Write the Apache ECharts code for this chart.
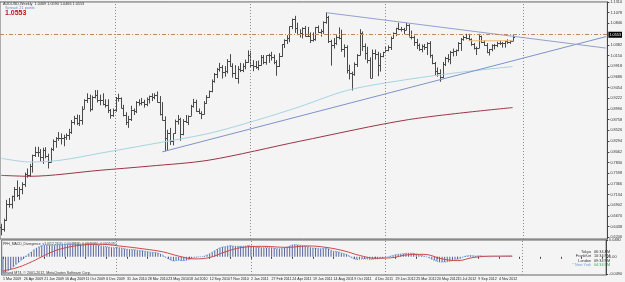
<!DOCTYPE html>
<html>
<head>
<meta charset="utf-8">
<script src="https://cdn.jsdelivr.net/npm/echarts@6/dist/echarts.min.js"></script>
<style>
  html, body { margin: 0; padding: 0; background: #f4f4f4; }
  #chart { width: 625px; height: 282px; }
</style>
</head>
<body>
<div id="chart"></div>
<script>
// AUDUSD weekly bars, 1 Mar 2009 .. Dec 2012
var opens = [
  0.6430,0.6390,0.6590,0.6930,0.6930,0.7100,0.7250,0.7130,0.7250,0.7370,
  0.7570,0.7550,0.7750,0.7990,0.8050,0.8060,0.7950,0.8100,0.7960,0.7850,
  0.8130,0.8300,0.8360,0.8360,0.8350,0.8380,0.8420,0.8500,0.8710,0.8790,
  0.8680,0.8740,0.9000,0.9190,0.9230,0.9000,0.9260,0.9290,0.9190,0.9180,
  0.9100,0.9070,0.8960,0.8850,0.8970,0.9220,0.9230,0.9020,0.8850,0.8710,
  0.8780,0.8960,0.8950,0.9150,0.9110,0.9140,0.9100,0.9200,0.9280,0.9260,
  0.9290,0.9150,0.8880,0.8760,0.8350,0.8470,0.8290,0.8460,0.8720,0.8780,
  0.8440,0.8720,0.8700,0.8840,0.9050,0.9140,0.8950,0.8910,0.8890,0.9130,
  0.9240,0.9370,0.9600,0.9750,0.9860,0.9890,0.9800,0.9810,1.0040,0.9930,
  0.9760,0.9660,0.9860,0.9840,0.9930,1.0010,1.0160,0.9950,0.9920,0.9900,
  0.9940,1.0110,1.0000,1.0150,1.0160,1.0110,1.0010,0.9930,1.0130,1.0390,
  1.0480,1.0540,1.0780,1.0950,1.0740,1.0620,1.0640,1.0740,1.0580,1.0570,
  1.0480,1.0510,1.0760,1.0660,1.0680,1.0880,1.0980,1.0460,1.0380,1.0420,
  1.0550,1.0530,1.0290,1.0330,0.9840,0.9780,0.9750,0.9960,1.0170,1.0630,
  1.0360,1.0200,1.0050,0.9670,1.0200,1.0190,0.9940,1.0140,1.0230,1.0260,
  1.0330,1.0540,1.0630,1.0740,1.0730,1.0720,1.0710,1.0820,1.0560,1.0560,
  1.0440,1.0370,1.0280,1.0350,1.0330,1.0410,1.0150,0.9990,0.9810,0.9780,
  0.9680,0.9970,1.0090,1.0080,1.0230,1.0240,1.0260,1.0430,1.0500,1.0560,
  1.0540,1.0500,1.0390,1.0310,1.0320,1.0580,1.0450,1.0380,1.0220,1.0280,
  1.0370,1.0370,1.0420,1.0430,1.0420,1.0470,1.0440,1.0469
];
var highs = [
  0.6500,0.6610,0.7020,0.7060,0.7110,0.7300,0.7440,0.7300,0.7400,0.7610,
  0.7700,0.7800,0.8000,0.8170,0.8170,0.8120,0.8150,0.8160,0.8020,0.8150,
  0.8330,0.8380,0.8490,0.8460,0.8430,0.8460,0.8560,0.8750,0.8840,0.8870,
  0.8860,0.9050,0.9200,0.9330,0.9300,0.9280,0.9400,0.9400,0.9300,0.9330,
  0.9200,0.9200,0.8990,0.9000,0.9250,0.9320,0.9240,0.9080,0.8920,0.8840,
  0.9060,0.9000,0.9160,0.9200,0.9230,0.9190,0.9240,0.9280,0.9330,0.9330,
  0.9370,0.9270,0.9140,0.8830,0.8540,0.8580,0.8460,0.8760,0.8860,0.8800,
  0.8770,0.8860,0.8850,0.9080,0.9210,0.9190,0.9000,0.8940,0.9160,0.9290,
  0.9390,0.9630,0.9770,0.9880,0.9990,0.9940,0.9920,1.0070,1.0180,0.9980,
  0.9940,0.9920,0.9990,0.9980,1.0060,1.0260,1.0250,1.0050,1.0030,1.0040,
  1.0160,1.0160,1.0150,1.0190,1.0230,1.0170,1.0050,1.0200,1.0400,1.0500,
  1.0590,1.0780,1.0950,1.1010,1.0860,1.0720,1.0760,1.0790,1.0770,1.0650,
  1.0650,1.0770,1.0800,1.0720,1.0890,1.1080,1.1010,1.0490,1.0530,1.0590,
  1.0760,1.0710,1.0390,1.0370,0.9950,0.9800,1.0000,1.0180,1.0720,1.0670,
  1.0410,1.0340,1.0110,1.0280,1.0280,1.0230,1.0200,1.0230,1.0340,1.0370,
  1.0560,1.0650,1.0750,1.0860,1.0770,1.0750,1.0860,1.0830,1.0690,1.0580,
  1.0510,1.0410,1.0390,1.0400,1.0440,1.0460,1.0170,1.0010,0.9890,0.9850,
  1.0010,1.0120,1.0180,1.0250,1.0300,1.0280,1.0440,1.0530,1.0580,1.0620,
  1.0620,1.0520,1.0420,1.0340,1.0620,1.0580,1.0480,1.0420,1.0290,1.0390,
  1.0400,1.0450,1.0470,1.0440,1.0470,1.0500,1.0480,1.0590
];
var lows = [
  0.6250,0.6330,0.6560,0.6850,0.6830,0.6990,0.7080,0.7020,0.7140,0.7300,
  0.7500,0.7520,0.7610,0.7950,0.7950,0.7850,0.7800,0.7920,0.7700,0.7830,
  0.8080,0.8150,0.8300,0.8220,0.8180,0.8320,0.8320,0.8450,0.8650,0.8640,
  0.8620,0.8650,0.8990,0.9120,0.8930,0.8960,0.9220,0.9130,0.9070,0.9070,
  0.9020,0.8900,0.8780,0.8820,0.8930,0.9150,0.9000,0.8830,0.8640,0.8580,
  0.8730,0.8860,0.8900,0.9060,0.9070,0.9020,0.9050,0.9110,0.9160,0.9200,
  0.9130,0.8850,0.8740,0.8070,0.8080,0.8210,0.8200,0.8450,0.8650,0.8300,
  0.8420,0.8690,0.8640,0.8840,0.9020,0.8930,0.8880,0.8770,0.8870,0.9100,
  0.9230,0.9350,0.9560,0.9660,0.9800,0.9650,0.9690,0.9760,0.9910,0.9670,
  0.9640,0.9540,0.9790,0.9790,0.9850,0.9990,0.9900,0.9810,0.9860,0.9830,
  0.9930,0.9960,0.9950,0.9990,1.0040,0.9960,0.9710,0.9900,1.0120,1.0310,
  1.0400,1.0440,1.0720,1.0640,1.0590,1.0540,1.0520,1.0560,1.0550,1.0420,
  1.0450,1.0470,1.0640,1.0560,1.0620,1.0840,1.0420,0.9930,1.0300,1.0380,
  1.0500,1.0230,1.0110,0.9760,0.9630,0.9390,0.9710,0.9900,1.0150,1.0250,
  1.0060,0.9980,0.9660,0.9660,1.0060,0.9700,0.9800,1.0110,1.0200,1.0240,
  1.0270,1.0510,1.0570,1.0700,1.0670,1.0610,1.0700,1.0560,1.0500,1.0360,
  1.0290,1.0250,1.0220,1.0270,1.0160,1.0100,0.9960,0.9710,0.9690,0.9580,
  0.9660,0.9920,1.0000,0.9960,1.0130,1.0140,1.0240,1.0250,1.0470,1.0500,
  1.0470,1.0360,1.0280,1.0160,1.0310,1.0420,1.0360,1.0200,1.0150,1.0240,
  1.0280,1.0330,1.0380,1.0320,1.0320,1.0400,1.0400,1.0466
];
var closes = [
  0.6390,0.6590,0.6930,0.6930,0.7100,0.7250,0.7130,0.7250,0.7370,0.7570,
  0.7550,0.7750,0.7990,0.8050,0.8060,0.7950,0.8100,0.7960,0.7850,0.8130,
  0.8300,0.8360,0.8360,0.8350,0.8380,0.8420,0.8500,0.8710,0.8790,0.8680,
  0.8740,0.9000,0.9190,0.9230,0.9000,0.9260,0.9290,0.9190,0.9180,0.9100,
  0.9070,0.8960,0.8850,0.8970,0.9220,0.9230,0.9020,0.8850,0.8710,0.8780,
  0.8960,0.8950,0.9150,0.9110,0.9140,0.9100,0.9200,0.9280,0.9260,0.9290,
  0.9150,0.8880,0.8760,0.8350,0.8470,0.8290,0.8460,0.8720,0.8780,0.8440,
  0.8720,0.8700,0.8840,0.9050,0.9140,0.8950,0.8910,0.8890,0.9130,0.9240,
  0.9370,0.9600,0.9750,0.9860,0.9890,0.9800,0.9810,1.0040,0.9930,0.9760,
  0.9660,0.9860,0.9840,0.9930,1.0010,1.0160,0.9950,0.9920,0.9900,0.9940,
  1.0110,1.0000,1.0150,1.0160,1.0110,1.0010,0.9930,1.0130,1.0390,1.0480,
  1.0540,1.0780,1.0950,1.0740,1.0620,1.0640,1.0740,1.0580,1.0570,1.0480,
  1.0510,1.0760,1.0660,1.0680,1.0880,1.0980,1.0460,1.0380,1.0420,1.0550,
  1.0530,1.0290,1.0330,0.9840,0.9780,0.9750,0.9960,1.0170,1.0630,1.0360,
  1.0200,1.0050,0.9670,1.0200,1.0190,0.9940,1.0140,1.0230,1.0260,1.0330,
  1.0540,1.0630,1.0740,1.0730,1.0720,1.0710,1.0820,1.0560,1.0560,1.0440,
  1.0370,1.0280,1.0350,1.0330,1.0410,1.0150,0.9990,0.9810,0.9780,0.9680,
  0.9970,1.0090,1.0080,1.0230,1.0240,1.0260,1.0430,1.0500,1.0560,1.0540,
  1.0500,1.0390,1.0310,1.0320,1.0580,1.0450,1.0380,1.0220,1.0280,1.0370,
  1.0370,1.0420,1.0430,1.0420,1.0470,1.0440,1.0469,1.0553
];

// moving averages and trend lines, as [week index, price]
var fastMaPoints = [[0,0.792],[11,0.784],[23,0.788],[38,0.803],[57,0.822],[80,0.846],[98,0.874],[115,0.904],[133,0.939],[153,0.960],[176,0.978],[197,0.991]];
var slowMaPoints = [[0,0.755],[11,0.753],[38,0.766],[57,0.775],[80,0.788],[115,0.829],[157,0.876],[197,0.902]];
var supportLine = [[62,0.806],[233,1.056]];
var resistanceLine = [[125,1.108],[233,1.031]];
var openLevel = [[180,1.0469],[197,1.0469]];
var priceLevel = 1.0553;
var yearStarts = [44, 96, 148, 201];

// MACD sub window
var macdValues = [
  -0.048,-0.045,-0.040,-0.035,-0.029,-0.022,-0.016,-0.010,-0.004,0.003,
  0.009,0.014,0.020,0.025,0.029,0.031,0.033,0.034,0.033,0.032,
  0.033,0.034,0.035,0.035,0.035,0.035,0.035,0.036,0.037,0.037,
  0.036,0.037,0.038,0.039,0.037,0.036,0.035,0.033,0.031,0.030,
  0.029,0.028,0.027,0.026,0.026,0.026,0.025,0.023,0.022,0.021,
  0.021,0.020,0.019,0.018,0.017,0.016,0.015,0.013,0.013,0.012,
  0.011,0.008,0.004,-0.002,-0.006,-0.010,-0.012,-0.011,-0.010,-0.011,
  -0.011,-0.010,-0.008,-0.005,-0.002,-0.001,0.000,0.000,0.002,0.005,
  0.009,0.013,0.018,0.022,0.026,0.028,0.029,0.031,0.032,0.031,
  0.030,0.030,0.030,0.030,0.031,0.032,0.031,0.030,0.028,0.027,
  0.027,0.026,0.026,0.026,0.026,0.025,0.023,0.023,0.024,0.026,
  0.028,0.031,0.034,0.035,0.034,0.033,0.032,0.031,0.029,0.027,
  0.025,0.025,0.024,0.023,0.024,0.026,0.023,0.019,0.016,0.015,
  0.014,0.011,0.009,0.007,0.003,-0.003,-0.006,-0.008,-0.007,-0.006,
  -0.006,-0.006,-0.008,-0.007,-0.006,-0.006,-0.005,-0.004,-0.002,0.000,
  0.002,0.004,0.006,0.007,0.008,0.009,0.010,0.010,0.010,0.010,
  0.008,0.006,0.004,0.002,0.000,-0.003,-0.007,-0.010,-0.013,-0.015,
  -0.015,-0.015,-0.014,-0.013,-0.011,-0.008,-0.007,-0.005,-0.001,0.002,
  0.003,0.004,0.003,0.002,0.003,0.003,0.002,0.001,0.000,0.000,
  0.001,0.001,0.001,0.001,0.002,0.002,0.002,0.003
];
var signalPoints = [[0,-0.040],[5,-0.032],[10,-0.018],[15,0.000],[20,0.017],[25,0.027],[30,0.033],[37,0.036],[45,0.031],[55,0.022],[62,0.014],[68,0.002],[74,-0.006],[80,-0.002],[86,0.014],[92,0.026],[100,0.030],[110,0.027],[118,0.031],[125,0.027],[132,0.017],[138,0.004],[144,-0.004],[150,-0.003],[157,0.006],[163,0.007],[170,-0.006],[176,-0.011],[182,-0.002],[190,0.002],[197,0.002]];

// axis labels
var weekCount = 234;
var xTickLabels = ['1 Mar 2009','26 Apr 2009','21 Jun 2009','16 Aug 2009','11 Oct 2009','6 Dec 2009','31 Jan 2010','28 Mar 2010','23 May 2010','18 Jul 2010','12 Sep 2010','7 Nov 2010','2 Jan 2011','27 Feb 2011','24 Apr 2011','19 Jun 2011','14 Aug 2011','9 Oct 2011','4 Dec 2011','29 Jan 2012','25 Mar 2012','20 May 2012','15 Jul 2012','9 Sep 2012','4 Nov 2012'];
var priceTicks = [1.1310,1.1078,1.0846,1.0382,1.0150,0.9918,0.9686,0.9454,0.9222,0.8990,0.8758,0.8526,0.8294,0.8062,0.7830,0.7598,0.7366,0.7134,0.6902,0.6670,0.6438,0.6206];
var macdTicks = [0.048, 0, -0.049];

var FONT = 'Liberation Sans';
var categories = [];
for (var i = 0; i < weekCount; i++) categories.push(String(i));
var ohlc = opens.map(function (o, i) { return [i, o, highs[i], lows[i], closes[i]]; });

function renderBar(params, api) {
  var i = api.value(0);
  var o = api.coord([i, api.value(1)]);
  var h = api.coord([i, api.value(2)]);
  var l = api.coord([i, api.value(3)]);
  var c = api.coord([i, api.value(4)]);
  var x = Math.round(o[0]) + 0.5;
  var oy = Math.round(o[1]) + 0.5;
  var cy = Math.round(c[1]) + 0.5;
  var st = { stroke: '#4a4a4a', lineWidth: 1 };
  return {
    type: 'group',
    children: [
      { type: 'line', shape: { x1: x, y1: h[1], x2: x, y2: l[1] }, style: st },
      { type: 'line', shape: { x1: x - 1.5, y1: oy, x2: x, y2: oy }, style: st },
      { type: 'line', shape: { x1: x, y1: cy, x2: x + 1.5, y2: cy }, style: st }
    ]
  };
}

var chart = echarts.init(document.getElementById('chart'));
var yearLines = yearStarts.map(function (w) { return { xAxis: w }; });

var option = {
  backgroundColor: '#f4f4f4',
  animation: false,
  textStyle: { fontFamily: FONT },
  grid: [
    { left: 0, right: 13, top: 1, height: 238, show: true, borderColor: '#666', borderWidth: 1 },
    { left: 0, right: 13, top: 240, height: 35, show: true, borderColor: '#666', borderWidth: 1 }
  ],
  xAxis: [
    {
      type: 'category', gridIndex: 0, data: categories, boundaryGap: true,
      axisLine: { show: false }, axisTick: { show: false }, axisLabel: { show: false }, splitLine: { show: false }
    },
    {
      type: 'category', gridIndex: 1, data: categories, boundaryGap: true,
      axisLine: { show: false },
      axisTick: { show: true, interval: 7, length: 2, alignWithLabel: true, lineStyle: { color: '#444' } },
      axisLabel: {
        interval: 7, align: 'left', margin: 2, fontSize: 3.6, color: '#222', fontFamily: FONT,
        formatter: function (v, idx) { return xTickLabels[idx / 8] || ''; }
      },
      splitLine: { show: false }
    }
  ],
  yAxis: [
    {
      type: 'value', gridIndex: 0, position: 'right', min: 0.6170, max: 1.1311, scale: true,
      axisLine: { show: true, lineStyle: { color: '#444' } },
      axisTick: { show: true, length: 2, customValues: priceTicks, lineStyle: { color: '#444' } },
      axisLabel: {
        customValues: priceTicks, margin: 3, fontSize: 3.8, color: '#333', fontFamily: FONT,
        formatter: function (v) { return v.toFixed(4); }
      },
      splitLine: { show: false }
    },
    {
      type: 'value', gridIndex: 1, position: 'right', min: -0.052, max: 0.048,
      axisLine: { show: true, lineStyle: { color: '#444' } },
      axisTick: { show: true, length: 2, customValues: macdTicks, lineStyle: { color: '#444' } },
      axisLabel: {
        customValues: macdTicks, margin: 3, fontSize: 3.8, color: '#333', fontFamily: FONT,
        formatter: function (v) { return v === 0 ? '0.00' : v.toFixed(4); }
      },
      splitLine: { show: false }
    }
  ],
  series: [
    {
      name: 'Slow MA', type: 'line', xAxisIndex: 0, yAxisIndex: 0, data: slowMaPoints,
      smooth: 0.3, symbol: 'none', lineStyle: { color: '#9c3446', width: 1 }
    },
    {
      name: 'Fast MA', type: 'line', xAxisIndex: 0, yAxisIndex: 0, data: fastMaPoints,
      smooth: 0.3, symbol: 'none', lineStyle: { color: '#a6d4df', width: 1 }
    },
    {
      name: 'Support', type: 'line', xAxisIndex: 0, yAxisIndex: 0, data: supportLine,
      symbol: 'none', lineStyle: { color: '#8192cc', width: 1 }
    },
    {
      name: 'Resistance', type: 'line', xAxisIndex: 0, yAxisIndex: 0, data: resistanceLine,
      symbol: 'none', lineStyle: { color: '#92a0d0', width: 1 }
    },
    {
      name: 'Open level', type: 'line', xAxisIndex: 0, yAxisIndex: 0, data: openLevel,
      symbol: 'none', lineStyle: { color: '#f0b870', width: 1 }
    },
    {
      name: 'AUDUSD', type: 'custom', xAxisIndex: 0, yAxisIndex: 0, data: ohlc,
      renderItem: renderBar, clip: true,
      encode: { x: 0, y: [1, 2, 3, 4] },
      markLine: {
        silent: true, symbol: ['none', 'none'], animation: false,
        data: yearLines.map(function (d) {
          return { xAxis: d.xAxis, label: { show: false }, lineStyle: { color: '#8c8c8c', type: [1, 2], width: 1 } };
        }).concat([{
          yAxis: priceLevel,
          lineStyle: { color: '#b88a5e', type: [4, 2, 1, 2], width: 1 },
          label: {
            show: true, position: 'end', distance: 1, formatter: priceLevel.toFixed(4),
            backgroundColor: '#000', color: '#fff', fontSize: 3.8, padding: [1, 1], fontFamily: FONT
          }
        }])
      }
    },
    {
      name: 'MACD', type: 'bar', xAxisIndex: 1, yAxisIndex: 1, data: macdValues,
      barWidth: 1, itemStyle: { color: '#56629a' },
      markLine: {
        silent: true, symbol: ['none', 'none'], animation: false,
        label: { show: false },
        lineStyle: { color: '#8c8c8c', type: [1, 2], width: 1 },
        data: yearLines
      }
    },
    {
      name: 'MACD line', type: 'line', xAxisIndex: 1, yAxisIndex: 1, data: macdValues,
      symbol: 'none', lineStyle: { color: '#5aa0e6', width: 1, type: 'dotted' }
    },
    {
      name: 'Signal', type: 'line', xAxisIndex: 1, yAxisIndex: 1, data: signalPoints,
      smooth: 0.4, symbol: 'none', lineStyle: { color: '#d04848', width: 1 }
    }
  ],
  graphic: [
    { type: 'text', x: 3, y: 2, style: { text: 'AUDUSD,Weekly  1.0469 1.0590 1.0466 1.0553', font: '3.8px ' + FONT, fill: '#333' } },
    { type: 'text', x: 5, y: 6, style: { text: 'Spread: 21 points', font: '3.8px ' + FONT, fill: '#6f90c4' } },
    { type: 'text', x: 5, y: 10, style: { text: '1.0553', font: 'bold 7px ' + FONT, fill: '#c41414' } },
    { type: 'text', x: 3, y: 242.5, style: { text: 'PFH_MACD_Divergence_v1.0(12,26,9)  0.0048530  0.0043460  0.0005070', font: '3.4px ' + FONT, fill: '#333' } },
    { type: 'text', x: 3, y: 271, style: { text: 'Saved MT4, \u00a9 2001-2012, MetaQuotes Software Corp.', font: '3.6px ' + FONT, fill: '#333' } },
    { type: 'text', x: 591, y: 249.5, style: { text: 'Tokyo', align: 'right', font: '3.8px ' + FONT, fill: '#333' } },
    { type: 'text', x: 591, y: 254, style: { text: 'Frankfurt', align: 'right', font: '3.8px ' + FONT, fill: '#333' } },
    { type: 'text', x: 591, y: 258.5, style: { text: 'London', align: 'right', font: '3.8px ' + FONT, fill: '#333' } },
    { type: 'text', x: 591, y: 263, style: { text: '* New York', align: 'right', font: '3.8px ' + FONT, fill: '#6f9ad0' } },
    { type: 'text', x: 594, y: 249.5, style: { text: '06:34 AM', font: '3.8px ' + FONT, fill: '#333' } },
    { type: 'text', x: 594, y: 254, style: { text: '10:34 PM', font: '3.8px ' + FONT, fill: '#333' } },
    { type: 'text', x: 594, y: 258.5, style: { text: '09:34 PM', font: '3.8px ' + FONT, fill: '#333' } },
    { type: 'text', x: 594, y: 263, style: { text: '04:34 PM', font: '3.8px ' + FONT, fill: '#3aaa5a' } }
  ]
};

chart.setOption(option);
</script>
</body>
</html>
